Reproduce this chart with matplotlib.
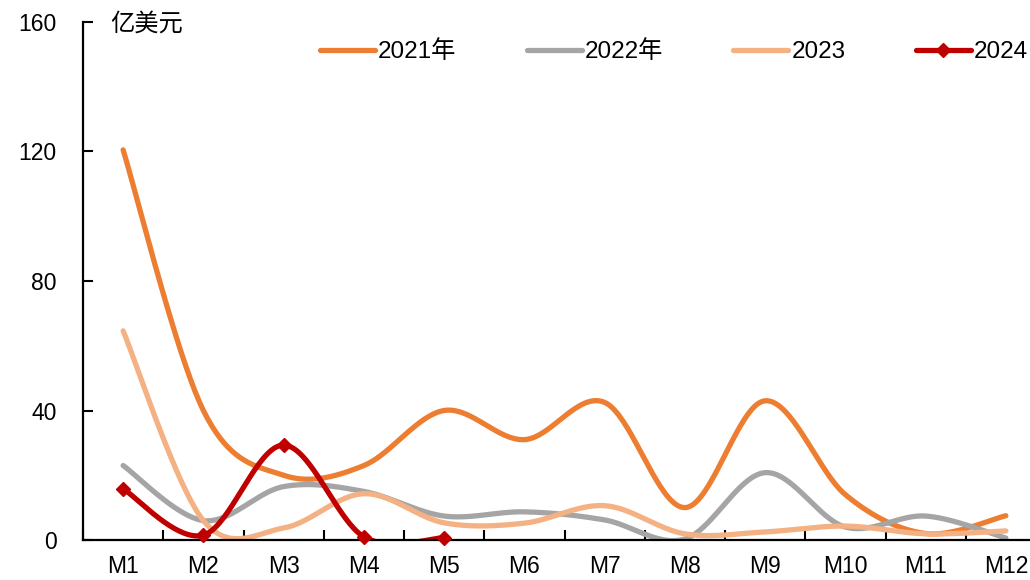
import numpy as np
import matplotlib.pyplot as plt

plt.rcParams['font.family'] = ['Liberation Sans', 'Noto Sans CJK SC']

months = ['M1', 'M2', 'M3', 'M4', 'M5', 'M6', 'M7', 'M8', 'M9', 'M10', 'M11', 'M12']
y2021 = [120.5, 40, 20, 23, 40, 31, 42.5, 10, 43, 14, 2, 7.5]
y2022 = [23, 6, 16.5, 15, 7.4, 8.7, 6.2, 0.3, 20.8, 4, 7.4, 0.6]
y2023 = [64.6, 6, 3.7, 14.3, 5.3, 5.2, 10.6, 1.9, 2.5, 4.3, 1.9, 2.8]
y2024 = [15.8, 1.5, 29.3, 1.0, 0.7]

series = [
    ('2021年', y2021, '#ED7D31'),
    ('2022年', y2022, '#A5A5A5'),
    ('2023', y2023, '#F4B183'),
]


def smooth(xs, ys, n=40):
    # cubic Bezier through each point, Catmull-Rom style control points
    xs = np.asarray(xs, float)
    ys = np.asarray(ys, float)
    px = np.concatenate([[xs[0]], xs, [xs[-1]]])
    py = np.concatenate([[ys[0]], ys, [ys[-1]]])
    outx, outy = [], []
    t = np.linspace(0, 1, n)
    for i in range(1, len(px) - 2):
        p0x, p1x, p2x, p3x = px[i - 1:i + 3]
        p0y, p1y, p2y, p3y = py[i - 1:i + 3]
        c1x, c1y = p1x + (p2x - p0x) / 6, p1y + (p2y - p0y) / 6
        c2x, c2y = p2x - (p3x - p1x) / 6, p2y - (p3y - p1y) / 6
        bx = (1 - t)**3 * p1x + 3 * (1 - t)**2 * t * c1x + 3 * (1 - t) * t**2 * c2x + t**3 * p2x
        by = (1 - t)**3 * p1y + 3 * (1 - t)**2 * t * c1y + 3 * (1 - t) * t**2 * c2y + t**3 * p2y
        outx.extend(bx)
        outy.extend(by)
    return np.array(outx), np.array(outy)


fig = plt.figure(figsize=(10.3, 5.8), dpi=100)
ax = fig.add_axes([83 / 1030, 40 / 580, (1046 - 83) / 1030, (540 - 22) / 580])

x = np.arange(len(months))
for label, vals, color in series:
    sx, sy = smooth(x, vals)
    ax.plot(sx, sy, color=color, lw=3.8, solid_capstyle='round', label=label)

x24 = np.arange(len(y2024))
sx, sy = smooth(x24, y2024)
ax.plot(sx, sy, color='#C00000', lw=3.8, solid_capstyle='round')
ax.plot(x24, y2024, linestyle='none', marker='D', ms=7, color='#C00000', clip_on=False, zorder=4)
ax.plot([], [], color='#C00000', lw=3.8, marker='D', ms=7, solid_capstyle='round', label='2024')

ax.set_xlim(-0.5, 11.5)
ax.set_ylim(0, 160)
ax.set_yticks([0, 40, 80, 120, 160])
ax.set_xticks(x)
ax.set_xticklabels(months)
ax.set_xticks(np.arange(-0.5, 12, 1), minor=True)
ax.tick_params(axis='x', which='major', length=0, pad=11, labelsize=16.5)
ax.tick_params(axis='x', which='minor', direction='in', length=7, width=1.5)
ax.tick_params(axis='y', direction='in', length=7, width=1.5, pad=19, labelsize=16.5)
for s in ['top', 'right']:
    ax.spines[s].set_visible(False)
for s in ['left', 'bottom']:
    ax.spines[s].set_linewidth(1.6)

fig.text(110 / 1030, 1 - 24 / 580, '亿美元', fontsize=17.5, va='center', ha='left')

fig.legend(loc='center left', bbox_to_anchor=(320 / 1030, 1 - 52 / 580), ncol=4,
           frameon=False, fontsize=17.5, handlelength=2.26, handletextpad=0.12,
           columnspacing=2.9, borderpad=0, borderaxespad=0)

fig.savefig('out.png', dpi=100)
